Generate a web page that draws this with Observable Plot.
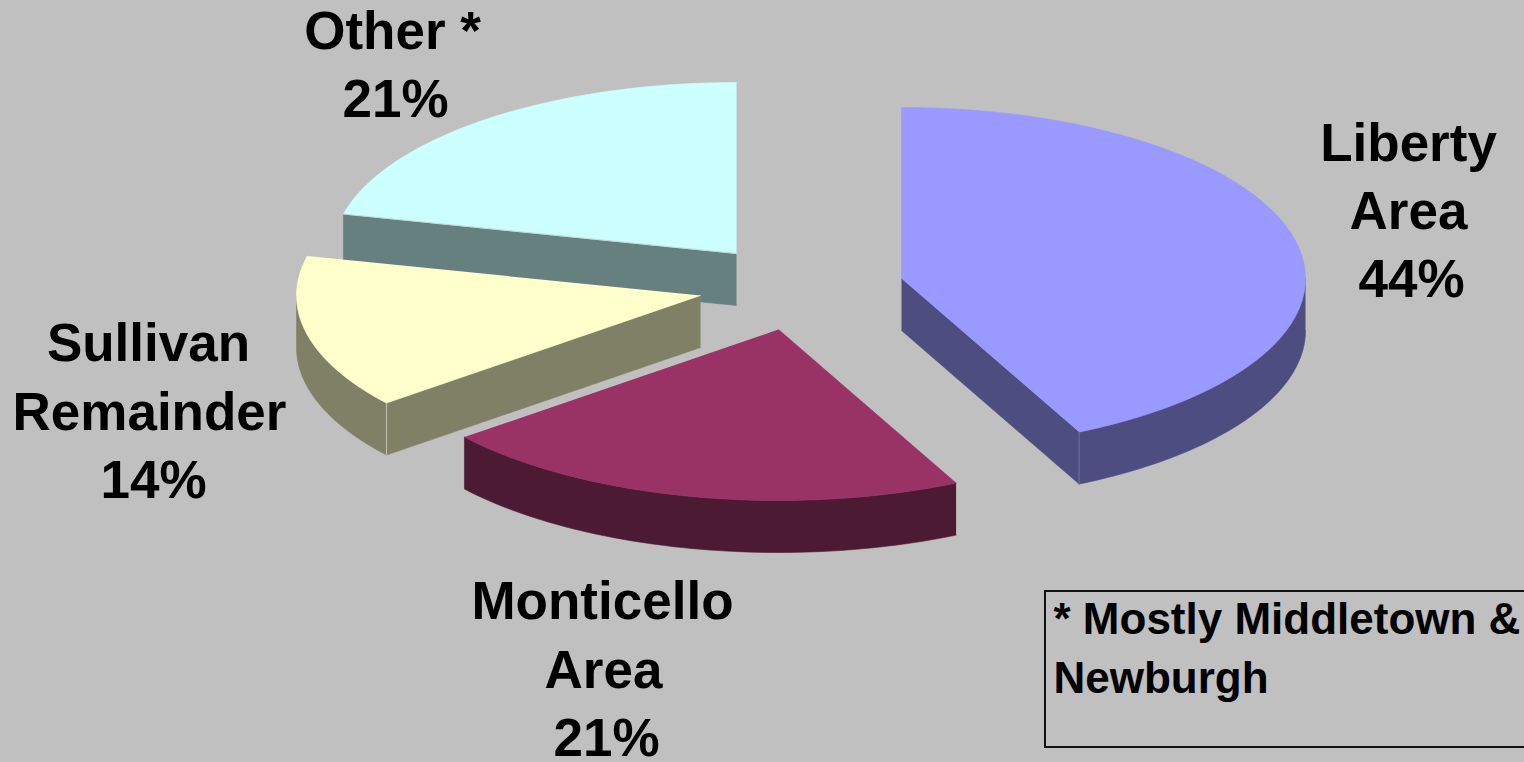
<!DOCTYPE html>
<html>
<head>
<meta charset="utf-8">
<script src="https://cdn.jsdelivr.net/npm/d3@7"></script>
<script src="https://cdn.jsdelivr.net/npm/@observablehq/plot@0.6"></script>
<style>
  html, body { margin: 0; padding: 0; background: #c0c0c0; overflow: hidden; }
  svg { display: block; }
</style>
</head>
<body>
<div id="chart"></div>
<script>
// Shares of the total, clockwise from twelve o'clock.
const regions = ["Liberty Area", "Monticello Area", "Sullivan Remainder", "Other *"];
const shares = [44, 21, 14, 21];
const noteLines = ["* Mostly Middletown &", "Newburgh"];

// Pie geometry, in chart units.
const radiusX = 404;
const radiusY = 171;
const depth = 52;
const tiltCos = 2.2;            // degrees of foreshortening from the tilted view
const tiltSin = 0.63;
const apexX = [901, 778, 700, 736];
const apexY = [278, 329, 295, 253];
const topColors = ["#9999ff", "#993366", "#ffffcc", "#ccffff"];
const sideColors = ["#4d4d80", "#4d1a33", "#808066", "#668080"];

// Label layout per slice: the region name is split across its lines, each with
// an x centre and a baseline; the last line carries the share.
const labelSplit = [["Liberty", "Area"], ["Monticello", "Area"], ["Sullivan", "Remainder"], ["Other *"]];
const labelX = [[1408, 1408, 1411], [602, 603, 606], [148, 149, 153], [392, 395]];
const labelY = [[160, 228, 296], [618, 687, 755], [360, 429, 497], [48, 116]];

// A share-based angle is slightly compressed on screen by the tilted view.
const viewAngle = (deg) => {
  const r = deg * Math.PI / 180;
  return deg - tiltCos * (1 - Math.cos(r)) - tiltSin * Math.sin(r);
};
const rimPoint = (i, deg, drop = 0) => ({
  x: apexX[i] + radiusX * Math.sin(deg * Math.PI / 180),
  y: apexY[i] - radiusY * Math.cos(deg * Math.PI / 180) + drop
});
const arc = (i, from, to, drop = 0) =>
  d3.range(0, 61).map((k) => rimPoint(i, from + (to - from) * k / 60, drop));

let cumulative = 0;
const slices = shares.map((share, i) => {
  const start = viewAngle(cumulative * 3.6);
  cumulative += share;
  const end = viewAngle(cumulative * 3.6);
  return {i, region: regions[i], share, start, end};
});

const apex = (i, drop = 0) => ({x: apexX[i], y: apexY[i] + drop});
const lineOptions = {x: "x", y: "y", curve: "linear"};
const face = (points, color) =>
  Plot.line(points, {...lineOptions, fill: color, stroke: color, strokeWidth: 0.6});

// Back slices first, so nearer walls cover them.
const marks = [];
for (const {i, start, end} of [slices[3], slices[2], slices[1], slices[0]]) {
  const side = sideColors[i];
  // Radial walls that face the viewer.
  for (const edge of [start > 180 && start < 360 ? start : null, end > 0 && end < 180 ? end : null]) {
    if (edge === null) continue;
    marks.push(face([apex(i), rimPoint(i, edge), rimPoint(i, edge, depth), apex(i, depth)], side));
  }
  // Outer rim, only along the near half of the ellipse.
  const rimFrom = Math.max(start, 90);
  const rimTo = Math.min(end, 270);
  if (rimFrom < rimTo) {
    const upper = arc(i, rimFrom, rimTo);
    const lower = arc(i, rimFrom, rimTo, depth).reverse();
    marks.push(face([...upper, ...lower], side));
  }
  // Top surface.
  marks.push(face([apex(i), ...arc(i, start, end)], topColors[i]));
}

// Light seams along the wall corners and the top edge of the back slice.
const seam = (points, color) =>
  Plot.line(points, {...lineOptions, stroke: color, strokeWidth: 1});
marks.push(seam([rimPoint(0, slices[0].end), rimPoint(0, slices[0].end, depth)], "#6f6f9f"));
marks.push(seam([rimPoint(2, slices[2].start), rimPoint(2, slices[2].start, depth)], "#c4c4b4"));
marks.push(seam([rimPoint(3, slices[3].start), apex(3)], "#c8d8d8"));

// Slice labels; the percentage line is taken from the share itself.
const labelRows = labelSplit.flatMap((parts, i) =>
  [...parts, `${shares[i]}%`].map((text, k) => ({text, x: labelX[i][k], y: labelY[i][k]}))
);
marks.push(Plot.text(labelRows, {
  x: "x", y: "y", text: "text", textAnchor: "middle", lineAnchor: "bottom",
  fontFamily: "Liberation Sans", fontWeight: "bold", fontSize: 53, fill: "#000"
}));

// Footnote box, running off the right edge.
marks.push(Plot.rect([{x1: 1045, x2: 1540, y1: 591, y2: 747}], {
  x1: "x1", x2: "x2", y1: "y1", y2: "y2", fill: "none", stroke: "#111", strokeWidth: 2
}));
marks.push(Plot.text(noteLines.map((text, k) => ({text, x: 1053, y: [633, 692][k]})), {
  x: "x", y: "y", text: "text", textAnchor: "start", lineAnchor: "bottom",
  fontFamily: "Liberation Sans", fontWeight: "bold", fontSize: 44, fill: "#000"
}));

const chart = Plot.plot({
  width: 1524,
  height: 762,
  margin: 0,
  x: {domain: [0, 1524], range: [0, 1524], axis: null},
  y: {domain: [0, 762], range: [0, 762], axis: null},
  style: {background: "#c0c0c0"},
  marks
});
document.getElementById("chart").append(chart);
</script>
</body>
</html>
